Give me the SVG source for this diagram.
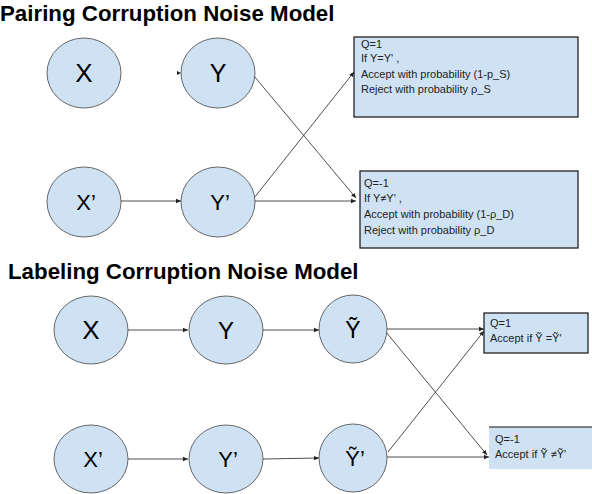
<svg xmlns="http://www.w3.org/2000/svg" width="592" height="494" viewBox="0 0 592 494">
<defs>
<marker id="ah" markerWidth="6" markerHeight="6" refX="5" refY="3" orient="auto" markerUnits="userSpaceOnUse">
<path d="M0,0.8 L5,3 L0,5.2 Z" fill="#222"/>
</marker>
<style>
.title{font-family:"Liberation Sans",Arial,sans-serif;font-weight:bold;font-size:22.3px;fill:#000}
.node ellipse{fill:#cfe2f3;stroke:#444;stroke-width:0.8}
.lbl{font-family:"Liberation Sans",Arial,sans-serif;fill:#000;text-anchor:middle}
.box rect{fill:#cfe2f3;stroke:#111;stroke-width:1.2}
.bt{font-family:"Liberation Sans",Arial,sans-serif;font-size:11px;fill:#222}
.conn line{stroke:#222;stroke-width:0.8;marker-end:url(#ah)}
</style>
</defs>
<rect width="592" height="494" fill="#fff"/>
<text class="title" x="0" y="21">Pairing Corruption Noise Model</text>
<text class="title" x="8" y="279">Labeling Corruption Noise Model</text>

<g id="connectors" class="conn">
<polygon points="177,71 181,73 177,75" fill="#222"/>
<line x1="121" y1="201" x2="181" y2="201"/>
<line x1="255" y1="201" x2="356" y2="201"/>
<line x1="254" y1="76" x2="356" y2="198"/>
<line x1="254" y1="198" x2="354" y2="72"/>
<line x1="128" y1="330" x2="188" y2="330"/>
<line x1="263" y1="330" x2="319" y2="330"/>
<line x1="387" y1="329" x2="484" y2="329"/>
<line x1="128" y1="459" x2="188" y2="459"/>
<line x1="263" y1="459" x2="319" y2="458"/>
<line x1="387" y1="457" x2="489" y2="457"/>
<line x1="386" y1="332" x2="487" y2="455"/>
<line x1="388" y1="452" x2="484" y2="331"/>
</g>

<g id="n-x1" class="node"><ellipse cx="84" cy="73" rx="37" ry="35"/><text class="lbl" x="84" y="82" font-size="26">X</text></g>
<g id="n-y1" class="node"><ellipse cx="218" cy="73" rx="37" ry="35"/><text class="lbl" x="218" y="82" font-size="25">Y</text></g>
<g id="n-x2" class="node"><ellipse cx="84" cy="202" rx="37" ry="35"/><text class="lbl" x="86" y="210" font-size="22">X’</text></g>
<g id="n-y2" class="node"><ellipse cx="218" cy="202" rx="37" ry="35"/><text class="lbl" x="220" y="210" font-size="22">Y’</text></g>

<g id="box-q1" class="box"><rect x="354" y="37" width="224" height="80"/>
<text class="bt" x="361" y="48">Q=1</text>
<text class="bt" x="361" y="62">If Y=Y' ,</text>
<text class="bt" x="361" y="78">Accept with probability (1-p_S)</text>
<text class="bt" x="361" y="93">Reject with probability ρ_S</text></g>
<g id="box-q2" class="box"><rect x="360" y="171" width="218" height="77"/>
<text class="bt" x="364" y="187">Q=-1</text>
<text class="bt" x="364" y="202">If Y≠Y' ,</text>
<text class="bt" x="364" y="218">Accept with probability (1-ρ_D)</text>
<text class="bt" x="364" y="234">Reject with probability ρ_D</text></g>

<g id="n-x3" class="node"><ellipse cx="91" cy="330" rx="37" ry="34"/><text class="lbl" x="91" y="339" font-size="26">X</text></g>
<g id="n-y3" class="node"><ellipse cx="226" cy="330" rx="37" ry="34"/><text class="lbl" x="226" y="339" font-size="24">Y</text></g>
<g id="n-yt3" class="node"><ellipse cx="353" cy="329" rx="34" ry="34"/><text class="lbl" x="353" y="338" font-size="23">Ỹ</text></g>
<g id="n-x4" class="node"><ellipse cx="91" cy="459" rx="37" ry="34"/><text class="lbl" x="93" y="467" font-size="22">X’</text></g>
<g id="n-y4" class="node"><ellipse cx="226" cy="459" rx="37" ry="34"/><text class="lbl" x="228" y="467" font-size="22">Y’</text></g>
<g id="n-yt4" class="node"><ellipse cx="353" cy="458" rx="34" ry="34"/><text class="lbl" x="355" y="466" font-size="22">Ỹ’</text></g>

<g id="box-q3" class="box"><rect x="484" y="313" width="104" height="40"/>
<text class="bt" x="490" y="327">Q=1</text>
<text class="bt" x="490" y="342">Accept if Ỹ =Ỹ'</text></g>
<g id="box-q4"><rect x="489" y="427" width="103" height="42" fill="#cfe2f3"/><line x1="489" y1="427" x2="592" y2="427" stroke="#111" stroke-width="1.2"/>
<text class="bt" x="495" y="443">Q=-1</text>
<text class="bt" x="495" y="458">Accept if Ỹ ≠Ỹ'</text></g>
</svg>
